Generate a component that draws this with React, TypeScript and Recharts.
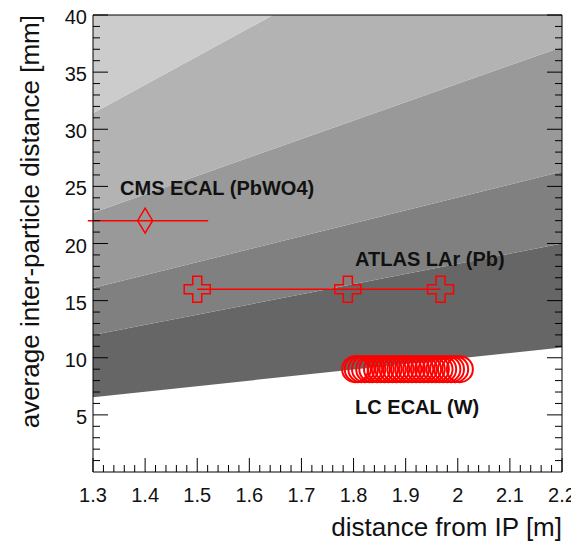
import React from 'react';
import {
  ComposedChart, Area, Line, Scatter, XAxis, YAxis, ReferenceLine,
} from 'recharts';

// ─── Data ─────────────────────────────────────────────────────────────────────

// x positions where the shaded contour boundaries are sampled [m]
const bandX = [1.3, 2.2];
// contour boundaries [mm] at bandX (bottom → top)
const edge1 = [6.55, 10.9];
const edge2 = [12.0, 20.0];
const edge3 = [16.1, 26.3];
const edge4 = [22.7, 37.2];
const edge5 = [31.4, 53.8];
const ceiling = [60, 60];
const bandColors = ['#666666', '#808080', '#999999', '#b3b3b3', '#cccccc'];

// CMS ECAL (PbWO4)
const cmsX = [1.4];
const cmsY = [22];
const cmsLo = [1.29];
const cmsHi = [1.521];

// ATLAS LAr (Pb)
const atlasX = [1.5, 1.789, 1.967];
const atlasY = [16, 16, 16];

// LC ECAL (W)
const lcX = [1.803, 1.808, 1.815, 1.822, 1.83, 1.836, 1.845, 1.852, 1.86, 1.867,
  1.875, 1.882, 1.89, 1.897, 1.905, 1.912, 1.92, 1.928, 1.935, 1.943, 1.95,
  1.958, 1.965, 1.972, 1.98, 1.987, 1.995, 2.004];
const lcY = 9;

const notes = [
  { x: 1.352, y: 24.9, text: 'CMS ECAL (PbWO4)' },
  { x: 1.803, y: 18.6, text: 'ATLAS LAr (Pb)' },
  { x: 1.803, y: 5.7, text: 'LC ECAL (W)' },
];

const xMajor = [1.3, 1.4, 1.5, 1.6, 1.7, 1.8, 1.9, 2.0, 2.1, 2.2];
const yMajor = [0, 5, 10, 15, 20, 25, 30, 35, 40];

// ─── Helpers ──────────────────────────────────────────────────────────────────

const FONT = '"Liberation Sans", Arial, Helvetica, sans-serif';

function withMinor(major: number[], n: number): number[] {
  const out: number[] = [];
  for (let i = 0; i < major.length - 1; i++) {
    const step = (major[i + 1] - major[i]) / n;
    for (let k = 0; k < n; k++) out.push(Number((major[i] + k * step).toFixed(4)));
  }
  out.push(major[major.length - 1]);
  return out;
}

const xTicks = withMinor(xMajor, 5);
const yTicks = withMinor(yMajor, 5).filter((v) => v > 0);

const isMajor = (v: number, list: number[]) => list.some((m) => Math.abs(m - v) < 1e-6);
const fmt = (v: number) => String(Number(v.toFixed(1)));

const bandData = bandX.map((x, i) => ({
  x,
  b0: [edge1[i], edge2[i]],
  b1: [edge2[i], edge3[i]],
  b2: [edge3[i], edge4[i]],
  b3: [edge4[i], edge5[i]],
  b4: [edge5[i], ceiling[i]],
}));
const cmsData = cmsX.map((x, i) => ({ x, y: cmsY[i] }));
const atlasData = atlasX.map((x, i) => ({ x, y: atlasY[i] }));
const lcData = lcX.map((x) => ({ x, y: lcY }));

// ─── Ticks (ROOT style: inside the frame, on all four sides) ──────────────────

const BottomTick = (p: any) => {
  const v = p.payload.value;
  const major = isMajor(v, xMajor);
  return (
    <g>
      <line x1={p.x} y1={p.y} x2={p.x} y2={p.y - (major ? 14 : 7)} stroke="#000" />
      {major && (
        <text x={p.x} y={p.y + 30} textAnchor="middle" fontSize={20} fontFamily={FONT} fill="#111">
          {fmt(v)}
        </text>
      )}
    </g>
  );
};

const TopTick = (p: any) => {
  const major = isMajor(p.payload.value, xMajor);
  return <line x1={p.x} y1={p.y} x2={p.x} y2={p.y + (major ? 14 : 7)} stroke="#000" />;
};

const LeftTick = (p: any) => {
  const v = p.payload.value;
  const major = isMajor(v, yMajor);
  return (
    <g>
      <line x1={p.x} y1={p.y} x2={p.x + (major ? 15 : 7)} y2={p.y} stroke="#000" />
      {major && (
        <text x={p.x - 6} y={p.y + 9} textAnchor="end" fontSize={20} fontFamily={FONT} fill="#111">
          {fmt(v)}
        </text>
      )}
    </g>
  );
};

const RightTick = (p: any) => {
  const major = isMajor(p.payload.value, yMajor);
  return <line x1={p.x} y1={p.y} x2={p.x - (major ? 15 : 7)} y2={p.y} stroke="#000" />;
};

// ─── Markers ──────────────────────────────────────────────────────────────────

const Diamond = (p: any) => (
  <polygon
    points={`${p.cx},${p.cy - 12.5} ${p.cx + 7.5},${p.cy} ${p.cx},${p.cy + 12.5} ${p.cx - 7.5},${p.cy}`}
    fill="none" stroke="#ff0000" strokeWidth={1.5}
  />
);

const Cross = (p: any) => {
  const { cx, cy } = p;
  const H = 13, a = 4.5;
  const pts = [
    [-a, -H], [a, -H], [a, -a], [H, -a], [H, a], [a, a],
    [a, H], [-a, H], [-a, a], [-H, a], [-H, -a], [-a, -a],
  ].map(([dx, dy]) => `${cx + dx},${cy + dy}`).join(' ');
  return <polygon key={`c${p.index}`} points={pts} fill="none" stroke="#ff0000" strokeWidth={1.5} />;
};

const Ring = (p: any) => (
  <circle cx={p.cx} cy={p.cy} r={13} fill="none" stroke="#ff0000" strokeWidth={2} />
);

const Note = (p: any) => (
  <text x={p.cx} y={p.cy} dominantBaseline="central" fontSize={20} fontWeight="bold"
        fontFamily={FONT} fill="#111">
    {p.payload.text}
  </text>
);

// ─── Chart ────────────────────────────────────────────────────────────────────

export default function App() {
  return (
    <div style={{ width: 571, height: 547, background: '#fff' }}>
      <style>{'body{margin:0}'}</style>
      <ComposedChart width={571} height={547} margin={{ top: 0, right: 0, bottom: 0, left: 0 }}>
        <XAxis xAxisId="b" dataKey="x" type="number" orientation="bottom" height={75}
               domain={[1.3, 2.2]} allowDataOverflow ticks={xTicks} interval={0}
               tickSize={0} tickMargin={0} tickLine={false} tick={<BottomTick />}
               axisLine={{ stroke: '#000' }}
               label={{
                 content: () => (
                   <text x={562} y={536} textAnchor="end" fontSize={26} fontFamily={FONT} fill="#111">
                     distance from IP [m]
                   </text>
                 ),
               }} />
        <XAxis xAxisId="t" type="number" orientation="top" height={15}
               domain={[1.3, 2.2]} allowDataOverflow ticks={xTicks} interval={0}
               tickSize={0} tickMargin={0} tickLine={false} tick={<TopTick />}
               axisLine={{ stroke: '#000' }} />
        <YAxis yAxisId="l" dataKey="y" type="number" orientation="left" width={93}
               domain={[0, 40]} allowDataOverflow ticks={yTicks} interval={0}
               tickSize={0} tickMargin={0} tickLine={false} tick={<LeftTick />}
               axisLine={{ stroke: '#000' }}
               label={{
                 content: () => (
                   <text x={30} y={15} transform="rotate(-90 30 15)" textAnchor="end"
                         dominantBaseline="central" fontSize={26} fontFamily={FONT} fill="#111">
                     average inter-particle distance [mm]
                   </text>
                 ),
               }} />
        <YAxis yAxisId="r" type="number" orientation="right" width={9}
               domain={[0, 40]} allowDataOverflow ticks={yTicks} interval={0}
               tickSize={0} tickMargin={0} tickLine={false} tick={<RightTick />}
               axisLine={{ stroke: '#000' }} />

        {(['b0', 'b1', 'b2', 'b3', 'b4'] as const).map((k, i) => (
          <Area key={k} data={bandData} xAxisId="b" yAxisId="l" type="linear"
                dataKey={(d: any) => d[k]} stroke="none" fill={bandColors[i]}
                fillOpacity={1} isAnimationActive={false} />
        ))}

        {cmsData.map((d, i) => (
          <ReferenceLine key={`cms${i}`} xAxisId="b" yAxisId="l" ifOverflow="visible"
                         segment={[{ x: cmsLo[i], y: d.y }, { x: cmsHi[i], y: d.y }]}
                         stroke="#ff0000" strokeWidth={1.5} />
        ))}

        <Line data={atlasData} xAxisId="b" yAxisId="l" dataKey="y" type="linear"
              stroke="#ff0000" strokeWidth={1.5} dot={(p: any) => <Cross {...p} />}
              isAnimationActive={false} />
        <Scatter data={cmsData} xAxisId="b" yAxisId="l" dataKey="y" shape={<Diamond />}
                 isAnimationActive={false} />
        <Scatter data={lcData} xAxisId="b" yAxisId="l" dataKey="y" shape={<Ring />}
                 isAnimationActive={false} />
        <Scatter data={notes} xAxisId="b" yAxisId="l" dataKey="y" shape={<Note />}
                 isAnimationActive={false} />
      </ComposedChart>
    </div>
  );
}
